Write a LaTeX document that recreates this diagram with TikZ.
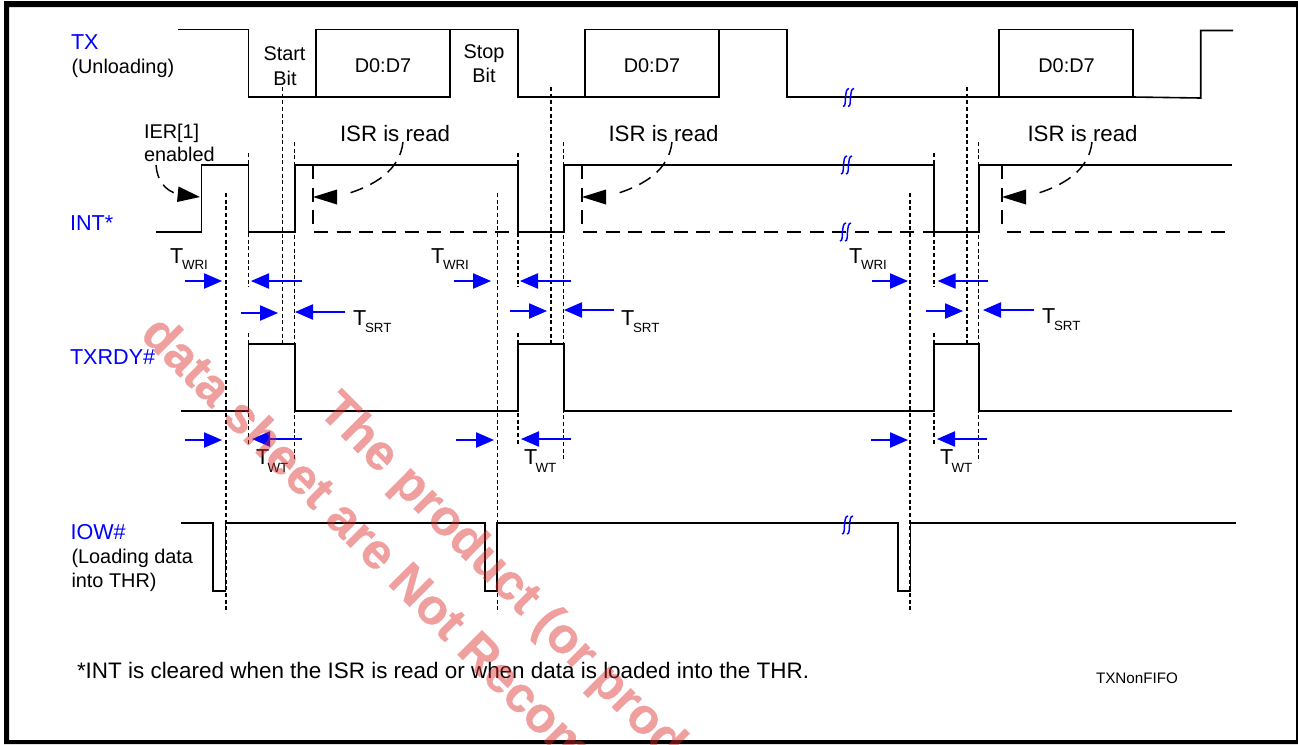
\documentclass[tikz,border=0pt]{standalone}
\usepackage{fontspec}
\setmainfont{Liberation Sans}
\usetikzlibrary{arrows.meta}
\definecolor{sigblue}{RGB}{0,0,255}
\definecolor{wmred}{RGB}{222,44,44}
\newcommand{\fs}[1]{\fontsize{#1}{#1}\selectfont}
\tikzset{
  sig/.style={draw=black,line width=1.2pt,line join=miter},
  lowdash/.style={draw=black,line width=1.1pt,dash pattern=on 10.5pt off 6.5pt},
  guide/.style={draw=black,line width=1.1pt,dash pattern=on 3pt off 2pt},
  callout/.style={draw=black,line width=1.1pt,dash pattern=on 10pt off 6pt},
  bluearrow/.style={draw=sigblue,line width=0.85pt,-{Triangle[length=13.5pt,width=11.5pt,fill=sigblue]}},
  lab/.style={anchor=base west,inner sep=0pt,outer sep=0pt,text=black,font=\fs{14.9}},
  siglab/.style={lab,text=sigblue,font=\fs{16.2}},
  ctr/.style={anchor=base,inner sep=0pt,outer sep=0pt,text=black,font=\fs{14.9}},
  tlab/.style={lab,font=\fs{16.2}},
  sublab/.style={lab,font=\fs{10}},
  isr/.style={lab,font=\fs{16.7}},
  wm/.style={anchor=base west,inner sep=0pt,outer sep=0pt,rotate=-45,text=wmred,font=\fs{37.5}\bfseries\addfontfeature{FakeBold=0.7}},
}
\newcommand{\brk}[2]{%
  \draw[sigblue,line width=1.1pt] (#1-5,#2+9) .. controls (#1-2,#2+9) and (#1-3,#2+3) .. (#1-2.5,#2) .. controls (#1-2,#2-4) and (#1-2,#2-9) .. (#1+1,#2-9);
  \draw[sigblue,line width=1.1pt] (#1,#2+9) .. controls (#1+3,#2+9) and (#1+2,#2+3) .. (#1+2.5,#2) .. controls (#1+3,#2-4) and (#1+3,#2-9) .. (#1+6,#2-9);
}
\begin{document}
\begin{tikzpicture}[x=0.75pt,y=-0.75pt]
\useasboundingbox (0,0) rectangle (1298,744);
\fill[white] (0,0) rectangle (1298,744);
% frame
\fill[black,even odd rule] (4,1) rectangle (1298,744) (9,7) rectangle (1296,740);

% TX
\draw[sig] (178,29.5) -- (248.6,29.5) -- (248.6,97) -- (315.7,97);
\draw[sig] (315.7,97) rectangle (450,29.5);
\draw[sig] (450,29.5) -- (518,29.5) -- (518,97) -- (585,97);
\draw[sig] (585,97) rectangle (719,29.5);
\draw[sig] (719,29.5) -- (786.7,29.5) -- (786.7,97) -- (999,97);
\draw[sig] (999,97) rectangle (1133,29.5);
\draw[sig] (1133,97) -- (1200.7,98) -- (1200.7,30.5) -- (1233,30.5);

% INT
\draw[sig] (156,232) -- (201.4,232) -- (201.4,165) -- (248.6,165) -- (248.6,232) -- (295,232) -- (295,165) -- (518,165) -- (518,232) -- (564,232) -- (564,165) -- (934,165) -- (934,232) -- (978.7,232) -- (978.7,165) -- (1232,165);
\draw[lowdash] (314,232) -- (518,232);
\draw[lowdash] (583,232) -- (934,232);
\draw[lowdash] (1007,232) -- (1232,232);
\draw[lowdash] (313,165) -- (313,228);
\draw[lowdash] (582,165) -- (582,228);
\draw[lowdash] (1002,165) -- (1002,228);

% TXRDY
\draw[sig] (181,411) -- (248.6,411) -- (248.6,344) -- (295,344) -- (295,411) -- (518,411) -- (518,344) -- (564,344) -- (564,411) -- (934,411) -- (934,344) -- (978.7,344) -- (978.7,411) -- (1232,411);

% IOW
\draw[sig] (181,523) -- (212.7,523) -- (212.7,591) -- (225.5,591) -- (225.5,523) -- (484.7,523) -- (484.7,591) -- (497,591) -- (497,523) -- (898,523) -- (898,591) -- (910.5,591) -- (910.5,523) -- (1236,523);

% guides
\foreach \xa/\xb/\xc/\xd in {226/248.6/282.3/294.7, 497.7/518/551/563.5, 910/934/967/978.7}{
  \draw[guide] (\xa,193) -- (\xa,613);
  \draw[guide] (\xb,153) -- (\xb,287);
  \draw[guide] (\xb,333) -- (\xb,445);
  \draw[guide] (\xc,87) -- (\xc,344);
  \draw[guide] (\xd,142) -- (\xd,462);
}

% callouts
\draw[callout] (156,165) .. controls (157,180) and (165,191) .. (178,194);
\fill[black] (200,197) -- (178.5,186.5) -- (177,202) -- cycle;
\foreach \dx in {0,269,689}{
  \draw[callout] (403+\dx,142) .. controls (400+\dx,170) and (375+\dx,186) .. (343+\dx,195);
  \fill[black] (313+\dx,197) -- (337+\dx,189.5) -- (337+\dx,204.5) -- cycle;
}

% blue timing arrows
\foreach \a/\b/\ya/\c/\d/\yb in {185/222/281/302/251/281, 453.6/491/281/571/520/281, 871.7/908/281/987.7/937.7/281,
  241/278/313/345/295/312, 510/547/311/614/564/310, 926/963/311/1034/983/310,
  185/222/440/302/252/439, 456/494/440/571/521/439, 871/908/440/987/937/439}{
  \draw[bluearrow] (\a,\ya) -- (\b,\ya);
  \draw[bluearrow] (\c,\yb) -- (\d,\yb);
}

% break marks
\brk{848}{97.5}
\brk{846}{165}
\brk{845}{232}
\brk{847}{525}

% labels
\node[siglab] (ltx) at (71,49) {TX};
\node[lab] (lunl) at (71.5,73) {(Unloading)};
\node[siglab] (lint) at (70,230) {INT*};
\node[siglab] (lrdy) at (70,364) {TXRDY\#};
\node[siglab] (liow) at (70.5,539) {IOW\#};
\node[lab] (lload) at (71.5,563) {(Loading data};
\node[lab] (lthr) at (71.5,587) {into THR)};
\node[ctr] (lst1) at (284.5,60) {Start};
\node[ctr] (lst2) at (285,85) {Bit};
\node[ctr] (lsp1) at (484,58) {Stop};
\node[ctr] (lsp2) at (484,82) {Bit};
\node[ctr] (ld1) at (383,72) {D0:D7};
\node[ctr] (ld2) at (652,72) {D0:D7};
\node[ctr] (ld3) at (1066.5,72) {D0:D7};
\node[lab] (lier1) at (144,138) {IER[1]};
\node[lab] (lier2) at (144,161) {enabled};
\node[isr] (lisr1) at (340,141) {ISR is read};
\node[isr] (lisr2) at (608.5,141) {ISR is read};
\node[isr] (lisr3) at (1027.5,141) {ISR is read};
\foreach \n/\x in {a/170,b/431,c/849}{
  \node[tlab] (tw\n) at (\x,263) {T};
  \node[sublab] (sw\n) at (\x+12,269.5) {WRI};
}
\foreach \n/\x/\y in {a/353/325,b/621/325,c/1042/323}{
  \node[tlab] (ts\n) at (\x,\y) {T};
  \node[sublab] (ss\n) at (\x+12,\y+7) {SRT};
}
\foreach \n/\x in {a/256,b/524,c/940}{
  \node[tlab] (tt\n) at (\x,464) {T};
  \node[sublab] (st\n) at (\x+11.5,472) {WT};
}
\node[lab,font=\fs{16.83}] (lnote) at (77,678) {*INT is cleared when the ISR is read or when data is loaded into the THR.};
\node[lab,font=\fs{11.4}] (lfig) at (1096,683) {TXNonFIFO};

% watermark
\begin{scope}[transparency group,opacity=0.45]
\clip (0,0) rectangle (1298,744);
\node[wm] (wm1) at (139,336) {data sheet are Not Recom};
\node[wm] (wm2) at (317,412) {The product (or prod};
\end{scope}
\end{tikzpicture}
\end{document}
